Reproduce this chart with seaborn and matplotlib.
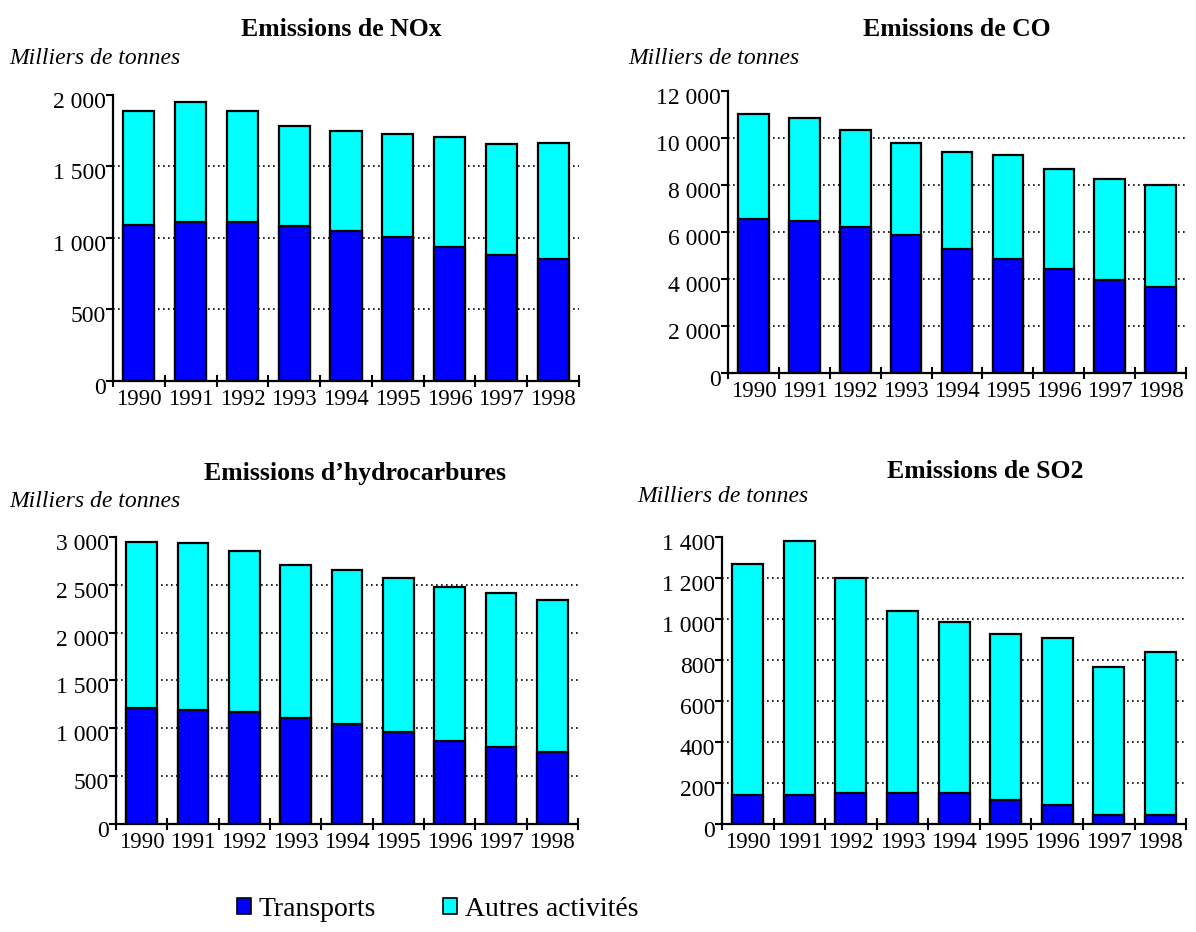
import numpy as np
import matplotlib.pyplot as plt
import matplotlib.transforms as mtransforms
import seaborn as sns
from matplotlib.patches import Patch
from matplotlib.ticker import FuncFormatter

years = ['1990', '1991', '1992', '1993', '1994', '1995', '1996', '1997', '1998']

# Milliers de tonnes
nox_transports = [1093, 1109, 1109, 1082, 1052, 1010, 937, 884, 854]
nox_autres = [797, 844, 781, 698, 696, 717, 767, 771, 810]

co_transports = [6540, 6468, 6226, 5872, 5277, 4851, 4438, 3945, 3672]
co_autres = [4482, 4384, 4104, 3935, 4105, 4429, 4234, 4302, 4332]

hc_transports = [1208, 1187, 1167, 1104, 1045, 961, 871, 808, 750]
hc_autres = [1743, 1747, 1684, 1607, 1611, 1612, 1604, 1604, 1590]

so2_transports = [143, 143, 151, 151, 151, 115, 94, 44, 44]
so2_autres = [1125, 1237, 1049, 888, 835, 811, 811, 723, 794]

BLUE = '#0000ff'
CYAN = '#00ffff'

sns.set_theme(style="ticks")
plt.rcParams['font.family'] = ['Liberation Serif', 'DejaVu Serif']
plt.rcParams['text.color'] = 'black'
plt.rcParams['xtick.color'] = 'black'
plt.rcParams['ytick.color'] = 'black'

fig = plt.figure(figsize=(11.96, 9.32), dpi=100)

panels = [
    # title, transports, autres, ymax, ystep, axes rect, title pos, unit pos
    ("Emissions de NOx", nox_transports, nox_autres, 2000, 500,
     [0.0945, 0.5912, 0.3896, 0.3069], (0.285, 0.961), (0.008, 0.931)),
    ("Emissions de CO", co_transports, co_autres, 12000, 2000,
     [0.6087, 0.5998, 0.3830, 0.3026], (0.800, 0.961), (0.525, 0.931)),
    ("Emissions d\u2019hydrocarbures", hc_transports, hc_autres, 3000, 500,
     [0.0970, 0.1159, 0.3863, 0.3079], (0.297, 0.485), (0.008, 0.456)),
    ("Emissions de SO2", so2_transports, so2_autres, 1400, 200,
     [0.6037, 0.1159, 0.3880, 0.3079], (0.824, 0.487), (0.533, 0.461)),
]

# tick labels on the y axis sit slightly below their tick
shift = mtransforms.ScaledTranslation(0, -5 / 100, fig.dpi_scale_trans)

for title, transports, autres, ymax, ystep, rect, tpos, upos in panels:
    ax = fig.add_axes(rect)
    totals = np.array(transports) + np.array(autres)
    sns.barplot(x=years, y=totals, color=CYAN, saturation=1, width=0.6,
                edgecolor='black', linewidth=1.6, errorbar=None, ax=ax)
    sns.barplot(x=years, y=transports, color=BLUE, saturation=1, width=0.6,
                edgecolor='black', linewidth=1.6, errorbar=None, ax=ax)

    ax.set_xlim(-0.5, len(years) - 0.5)
    ax.set_ylim(0, ymax)
    ax.set_yticks(np.arange(0, ymax + 1, ystep))
    ax.yaxis.set_major_formatter(FuncFormatter(lambda v, p: f"{int(v):,}".replace(",", " ")))
    ax.set_xticks(np.arange(-0.5, len(years), 1), minor=True)
    ax.set_xlabel("")
    ax.set_ylabel("")

    ax.tick_params(axis='x', which='major', length=0, labelsize=16.5, pad=6)
    ax.tick_params(axis='x', which='minor', direction='inout', length=9, width=1.5)
    ax.tick_params(axis='y', direction='out', length=5, width=1.5, labelsize=17, pad=0)
    for lab in ax.get_yticklabels():
        lab.set_transform(lab.get_transform() + shift)

    ax.yaxis.grid(True, linestyle=(0, (1, 2)), color='black', linewidth=1.2)
    ax.set_axisbelow(True)
    ax.yaxis.get_gridlines()[0].set_visible(False)
    ax.yaxis.get_gridlines()[-1].set_visible(False)

    sns.despine(ax=ax)
    for side in ['left', 'bottom']:
        ax.spines[side].set_linewidth(1.6)
        ax.spines[side].set_color('black')

    fig.text(tpos[0], tpos[1], title, ha='center', va='baseline',
             fontsize=18.5, fontweight='bold')
    fig.text(upos[0], upos[1], "Milliers de tonnes", ha='left', va='baseline',
             fontsize=17, style='italic')

handles = [Patch(facecolor=BLUE, edgecolor='black', linewidth=1.2, label='Transports'),
           Patch(facecolor=CYAN, edgecolor='black', linewidth=1.2, label='Autres activités')]
fig.legend(handles=handles, loc='center', bbox_to_anchor=(0.366, 0.024), ncol=2,
           frameon=False, fontsize=20, handlelength=0.5, handleheight=0.5,
           handletextpad=0.3, columnspacing=2.4)

plt.savefig("out.png", dpi=100)
